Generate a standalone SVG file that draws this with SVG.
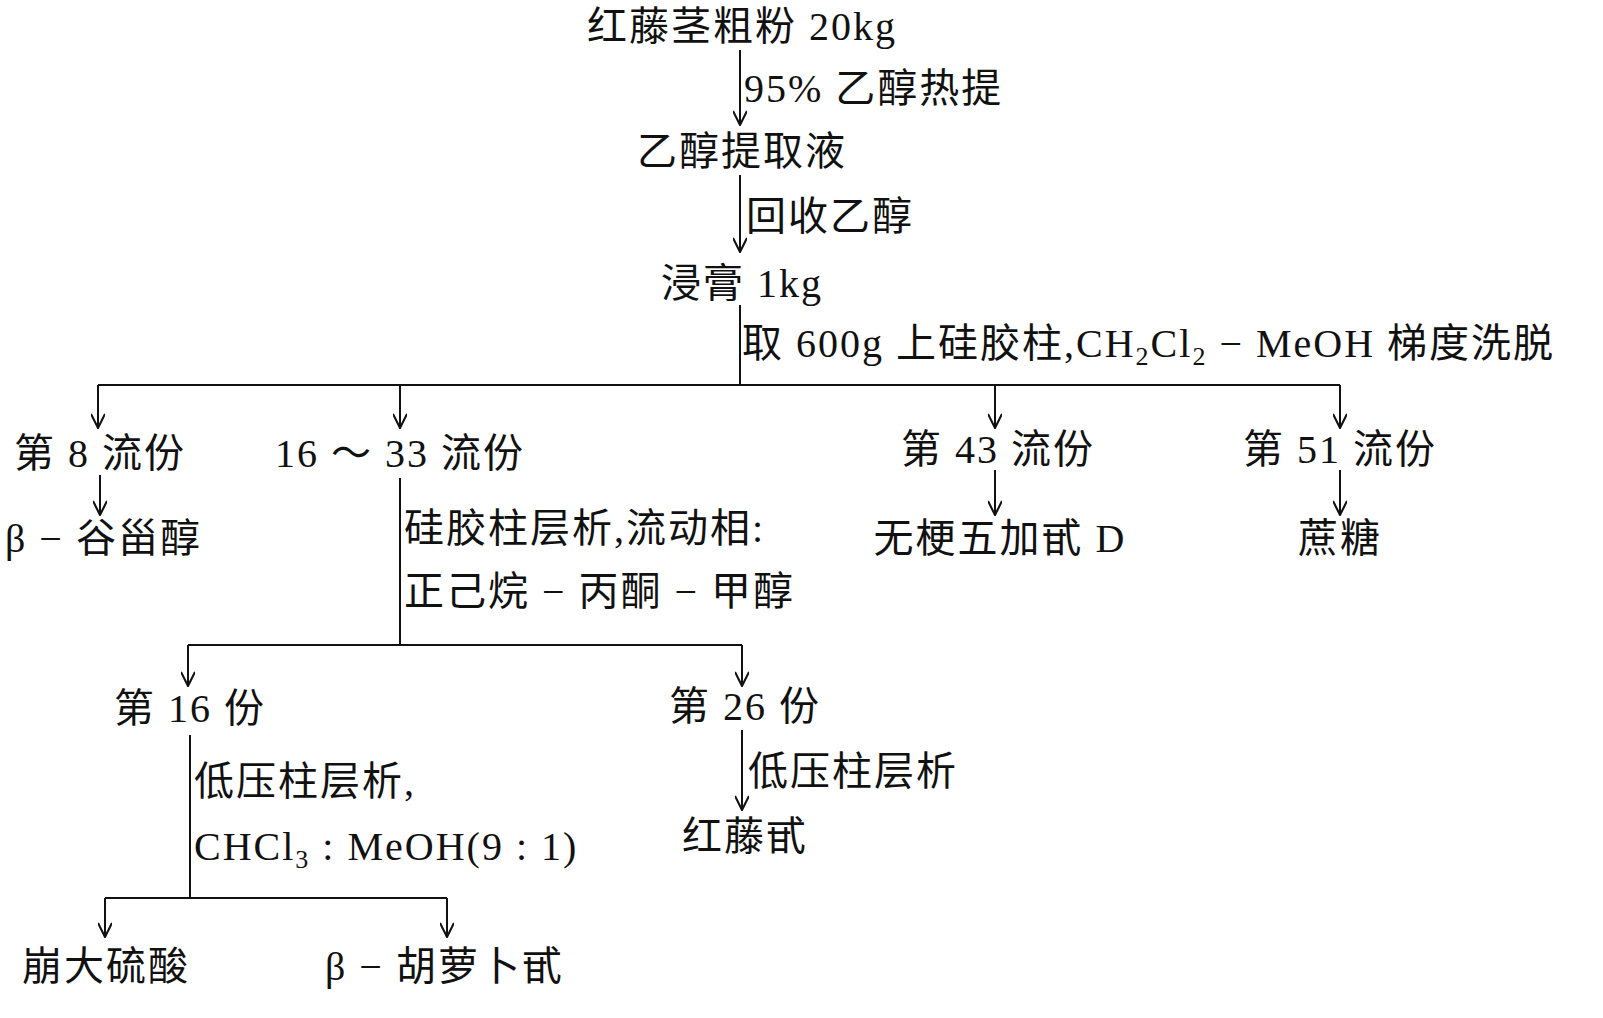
<svg xmlns="http://www.w3.org/2000/svg" width="1603" height="1018" viewBox="0 0 1603 1018">
<style>
text{font-family:"Liberation Serif","Noto Sans CJK SC",serif;font-size:40px;letter-spacing:2px;fill:#111}
.c{text-anchor:middle}
line{stroke:#111;stroke-width:2}
</style>
<defs>
<marker id="ar2" viewBox="0 0 10 10" refX="10" refY="5" markerWidth="16" markerHeight="14" markerUnits="userSpaceOnUse" orient="auto"><path d="M0,0 L10,5 L0,10" fill="none" stroke="#111" stroke-width="1.5"/></marker></defs>
<rect width="1603" height="1018" fill="#fff"/>
<g id="connectors">
<line x1="740" y1="50" x2="740" y2="125" marker-end="url(#ar2)"/>
<line x1="740" y1="175" x2="740" y2="252" marker-end="url(#ar2)"/>
<line x1="740" y1="305" x2="740" y2="385"/>
<line x1="98" y1="385" x2="1340" y2="385"/>
<line x1="98" y1="385" x2="98" y2="428" marker-end="url(#ar2)"/>
<line x1="400" y1="385" x2="400" y2="428" marker-end="url(#ar2)"/>
<line x1="995" y1="385" x2="995" y2="428" marker-end="url(#ar2)"/>
<line x1="1340" y1="385" x2="1340" y2="428" marker-end="url(#ar2)"/>
<line x1="100" y1="475" x2="100" y2="515" marker-end="url(#ar2)"/>
<line x1="995" y1="470" x2="995" y2="515" marker-end="url(#ar2)"/>
<line x1="1340" y1="470" x2="1340" y2="515" marker-end="url(#ar2)"/>
<line x1="400" y1="478" x2="400" y2="645"/>
<line x1="188" y1="645" x2="742" y2="645"/>
<line x1="188" y1="645" x2="188" y2="686" marker-end="url(#ar2)"/>
<line x1="742" y1="645" x2="742" y2="686" marker-end="url(#ar2)"/>
<line x1="742" y1="730" x2="742" y2="810" marker-end="url(#ar2)"/>
<line x1="190" y1="735" x2="190" y2="898"/>
<line x1="105" y1="898" x2="447" y2="898"/>
<line x1="105" y1="898" x2="105" y2="937" marker-end="url(#ar2)"/>
<line x1="447" y1="898" x2="447" y2="937" marker-end="url(#ar2)"/>
</g>
<g id="labels">
<text x="744" y="102">95% 乙醇热提</text>
<text x="746" y="230">回收乙醇</text>
<text x="742" y="357">取 600g 上硅胶柱,CH<tspan font-size="26" dy="8">2</tspan><tspan dy="-8">Cl</tspan><tspan font-size="26" dy="8">2</tspan><tspan dy="-8"> − MeOH 梯度洗脱</tspan></text>
<text x="404" y="542">硅胶柱层析,流动相:</text>
<text x="404" y="605">正己烷 − 丙酮 − 甲醇</text>
<text x="748" y="785">低压柱层析</text>
<text x="194" y="795">低压柱层析,</text>
<text x="194" y="860">CHCl<tspan font-size="26" dy="8">3</tspan><tspan dy="-8"> : MeOH(9 : 1)</tspan></text>
</g>
<g id="n1"><text class="c" x="742" y="40">红藤茎粗粉 20kg</text></g>
<g id="n2"><text class="c" x="742" y="165">乙醇提取液</text></g>
<g id="n3"><text class="c" x="742" y="297">浸膏 1kg</text></g>
<g id="n4"><text class="c" x="100" y="467">第 8 流份</text></g>
<g id="n5"><text class="c" x="400" y="467">16 ～ 33 流份</text></g>
<g id="n6"><text class="c" x="998" y="463">第 43 流份</text></g>
<g id="n7"><text class="c" x="1340" y="463">第 51 流份</text></g>
<g id="n8"><text x="5" y="552">β − 谷甾醇</text></g>
<g id="n9"><text class="c" x="1000" y="552">无梗五加甙 D</text></g>
<g id="n10"><text class="c" x="1340" y="552">蔗糖</text></g>
<g id="n11"><text class="c" x="190" y="722">第 16 份</text></g>
<g id="n12"><text class="c" x="745" y="720">第 26 份</text></g>
<g id="n13"><text class="c" x="745" y="850">红藤甙</text></g>
<g id="n14"><text x="22" y="980">崩大硫酸</text></g>
<g id="n15"><text x="325" y="980">β − 胡萝卜甙</text></g>
</svg>
